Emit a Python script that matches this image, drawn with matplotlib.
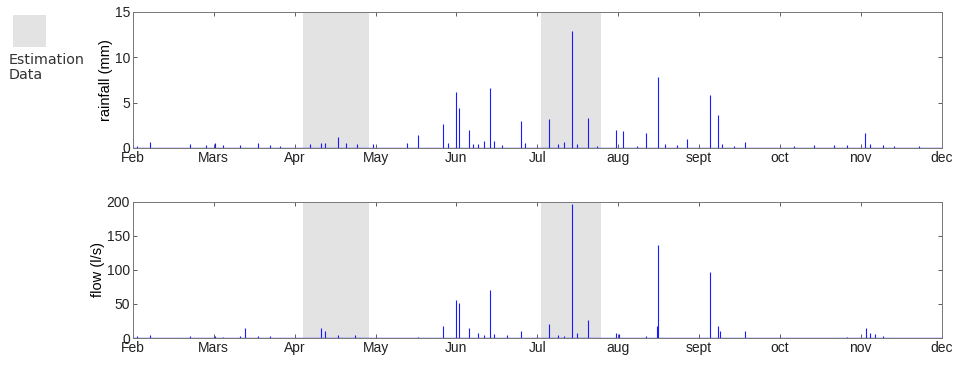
import numpy as np
import matplotlib
matplotlib.use("Agg")
import matplotlib.pyplot as plt
from matplotlib.patches import Rectangle

# month tick labels (equally spaced, x in month units, 0 = Feb)
months = ["Feb", "Mars", "Apr", "May", "Jun", "Jul", "aug", "sept", "oct", "nov", "dec"]

# estimation periods (month units)
est_periods = [(2.10, 2.92), (5.04, 5.79)]

# rainfall spikes: position (month units), value (mm)
rain_pos = [0.05, 0.21, 0.71, 0.90, 1.01, 1.12, 1.32, 1.55, 1.70, 1.82, 2.19, 2.33,
            2.38, 2.54, 2.64, 2.77, 2.97, 3.39, 3.53, 3.84, 3.90, 3.99, 4.03, 4.16,
            4.21, 4.27, 4.34, 4.42, 4.47, 4.56, 4.80, 4.85, 5.15, 5.26, 5.33, 5.43,
            5.49, 5.63, 5.74, 5.97, 6.06, 6.23, 6.34, 6.49, 6.58, 6.73, 6.85, 7.13,
            7.23, 7.29, 7.43, 7.57, 8.17, 8.42, 8.67, 8.83, 9.05, 9.12, 9.27, 9.41, 9.72]
rain_val = [0.2, 0.7, 0.4, 0.3, 0.5, 0.3, 0.3, 0.5, 0.3, 0.2, 0.4, 0.6,
            0.5, 1.2, 0.6, 0.4, 0.4, 0.5, 1.4, 2.6, 0.5, 6.2, 4.4, 2.0,
            0.4, 0.4, 0.8, 6.6, 0.8, 0.3, 3.0, 0.5, 3.2, 0.4, 0.7, 12.9,
            0.4, 3.3, 0.2, 2.0, 1.9, 0.2, 1.7, 7.8, 0.4, 0.3, 1.0, 5.8,
            3.6, 0.4, 0.2, 0.7, 0.2, 0.3, 0.3, 0.3, 1.6, 0.4, 0.3, 0.2, 0.2]

# flow spikes: position (month units), value (l/s)
flow_pos = [0.05, 0.21, 0.71, 1.01, 1.12, 1.32, 1.39, 1.55, 1.70, 2.32, 2.38, 2.54,
            2.75, 3.53, 3.84, 3.99, 4.03, 4.16, 4.27, 4.34, 4.42, 4.47, 4.63, 4.80,
            5.15, 5.26, 5.33, 5.43, 5.49, 5.63, 5.97, 6.01, 6.34, 6.48, 6.49, 7.13,
            7.23, 7.26, 7.57, 8.83, 9.06, 9.12, 9.17, 9.27]
flow_val = [3, 4, 3, 3, 2, 3, 14, 3, 3, 14, 10, 5,
            5, 2, 18, 56, 51, 14, 8, 5, 70, 6, 5, 10,
            21, 4, 3, 197, 7, 27, 7, 6, 3, 17, 136, 97,
            18, 10, 10, 2, 15, 8, 6, 3]

plt.rcParams['font.family'] = ['Liberation Sans', 'DejaVu Sans']

fig = plt.figure(figsize=(9.56, 3.69), dpi=100)
ax1 = fig.add_axes([0.139, 0.599, 0.846, 0.369])
ax2 = fig.add_axes([0.139, 0.084, 0.846, 0.369])

panels = [(ax1, rain_pos, rain_val, 15, [0, 5, 10, 15], "rainfall (mm)"),
          (ax2, flow_pos, flow_val, 200, [0, 50, 100, 150, 200], "flow (l/s)")]

for ax, pos, val, ymax, yt, lab in panels:
    for a, b in est_periods:
        ax.axvspan(a, b, color="#e3e3e3", lw=0, zorder=0)
    ax.vlines(pos, 0, val, color="#1a1aff", lw=0.8, zorder=2)
    ax.axhline(0, color="#3030ff", lw=1.0, zorder=2)
    ax.set_xlim(0, len(months) - 1)
    ax.set_ylim(0, ymax)
    ax.set_xticks(np.arange(len(months)))
    ax.set_xticklabels(months)
    ax.set_yticks(yt)
    ax.set_ylabel(lab, fontsize=10.5, labelpad=1)
    ax.tick_params(direction="in", top=True, right=True, length=3, width=0.6,
                   color="#444444", labelsize=10, pad=2, labelcolor="#222222")
    for s in ax.spines.values():
        s.set_color("#777777")
        s.set_linewidth(0.7)

# legend-like box for estimation data
fig.patches.append(Rectangle((13 / 956, 1 - 47 / 369), 33 / 956, 32 / 369,
                             transform=fig.transFigure, color="#e3e3e3", lw=0))
fig.text(9 / 956, 1 - 53 / 369, "Estimation\nData", family="DejaVu Sans",
         fontsize=10.3, va="top", ha="left", linespacing=1.05, color="#333333")

fig.savefig("out.png", dpi=100)
